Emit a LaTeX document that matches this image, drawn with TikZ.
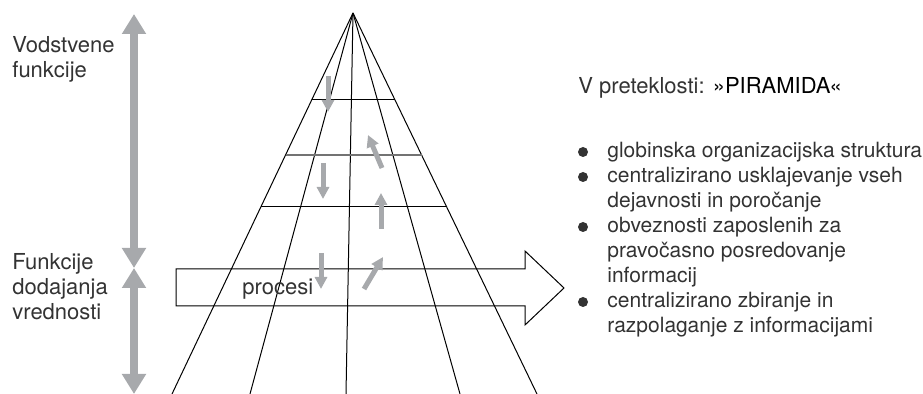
\documentclass[tikz,border=0pt]{standalone}
\usepackage{fontspec}
\setmainfont{TeX Gyre Heros}
\usetikzlibrary{arrows.meta,calc}
\definecolor{pgrey}{HTML}{A7A9AC}
\definecolor{ptext}{HTML}{333333}

\begin{document}
\begin{tikzpicture}[x=0.5pt, y=-0.5pt,
    txt/.style={inner sep=0, anchor=north west, align=left, text=ptext, font=\fontsize{11}{12.5}\selectfont},
    item/.style={txt, font=\fontsize{10.5}{12.5}\selectfont},
    rib/.style={line width=0.5pt},
    bigarrow/.style={draw=pgrey, line width=4.25pt, {Triangle[length=10pt,width=11.5pt]}-{Triangle[length=10pt,width=11.5pt]}},
    flow/.style={draw=pgrey, line width=2.5pt, -{Triangle[length=6pt,width=6pt]}},
    dot/.style={circle, fill=ptext, inner sep=0, minimum size=5pt},
]
\useasboundingbox (0,0) rectangle (923,394);

% pyramid
\coordinate (apex) at (353,13);
\coordinate (bl) at (172,394);
\coordinate (br) at (537,394);
\foreach \x in {172,250,346,460,537}
  \draw[rib] (apex) -- (\x,394);
\draw[rib] ($(apex)!0.2283!(bl)$) -- ($(apex)!0.2283!(br)$);
\draw[rib, draw=black!55, line width=0.8pt] ($(apex)!0.3727!(bl)$) -- ($(apex)!0.3727!(br)$);
\draw[rib] ($(apex)!0.5066!(bl)$) -- ($(apex)!0.5066!(br)$);

% process arrow
\draw[rib] (176,269) -- (525,269) -- (525,251) -- (564,288) -- (525,325) -- (525,306) -- (176,306) -- cycle;
\node[txt, anchor=base west] (proc) at (242,295) {procesi};

% information flows
\draw[flow] (328,76) -- (328,112);
\draw[flow] (323,163) -- (323,199);
\draw[flow] (321,253) -- (321,289);
\draw[flow] (382,168) -- (368,135);
\draw[flow] (381,229) -- (381,193);
\draw[flow] (364,289) -- (383,257);

% levels on the left
\coordinate (split) at (134,268);
\coordinate (top) at (134,14);
\coordinate (bottom) at (134,394);
\draw[bigarrow] (split) -- (top);
\draw[bigarrow] (split) -- (bottom);
\node[txt] (lead) at (12,36) {Vodstvene\\funkcije};
\node[txt] (value) at (12,253) {Funkcije\\dodajanja\\vrednosti};

% list
\node[txt] (head) at (578,77) {V preteklosti: \textcolor{black}{»PIRAMIDA«}};
\node[item] (i1) at (607,142) {globinska organizacijska struktura};
\node[item] (i2) at (607,167) {centralizirano usklajevanje vseh\\dejavnosti in poročanje};
\node[item] (i3) at (607,217) {obveznosti zaposlenih za\\pravočasno posredovanje\\informacij};
\node[item] (i4) at (607,292) {centralizirano zbiranje in\\razpolaganje z informacijami};
\foreach \i in {i1,i2,i3,i4}
  \node[dot] at ($(\i.north west)+(-24,10)$) {};
\end{tikzpicture}
\end{document}
